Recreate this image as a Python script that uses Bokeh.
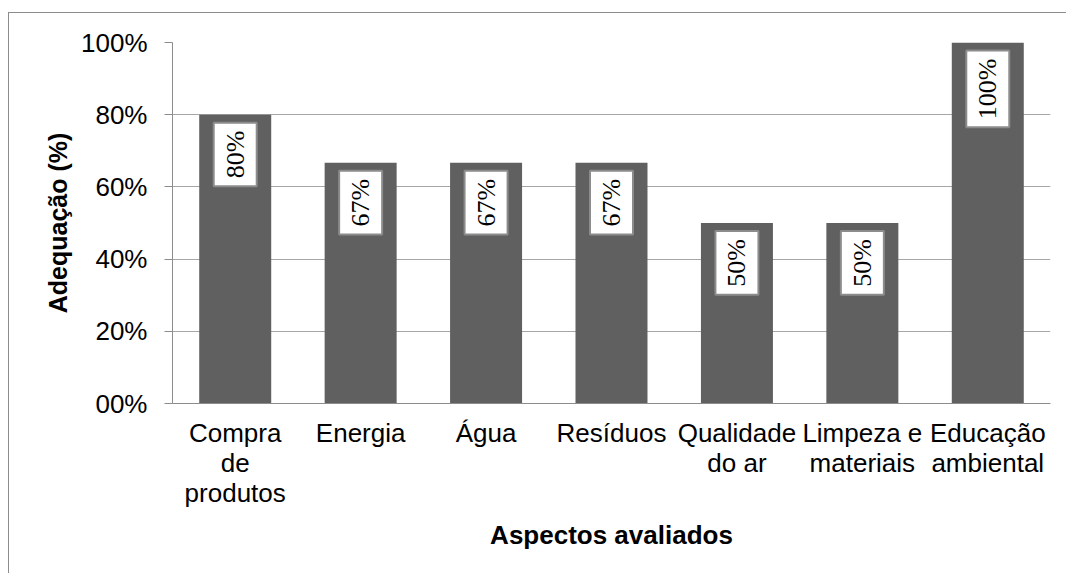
import math
from bokeh.plotting import figure
from bokeh.models import ColumnDataSource, Range1d, FixedTicker, FactorRange
from bokeh.core.properties import value
from bokeh.embed import file_html
from bokeh.resources import INLINE

categories = ["Compra\nde\nprodutos", "Energia", "Água", "Resíduos",
              "Qualidade\ndo ar", "Limpeza e\nmateriais", "Educação\nambiental"]
values = [80, 66.67, 66.67, 66.67, 50, 50, 100]
value_labels = ["80%", "67%", "67%", "67%", "50%", "50%", "100%"]
y_ticks = [0, 20, 40, 60, 80, 100]
y_tick_labels = ["00%", "20%", "40%", "60%", "80%", "100%"]

src = ColumnDataSource(dict(cat=categories, val=values, lbl=value_labels))

p = figure(width=1058, height=561, output_backend="svg", toolbar_location=None,
           x_range=FactorRange(*categories), y_range=Range1d(0, 100),
           min_border_left=163, min_border_right=17, min_border_top=29, min_border_bottom=171)
p.styles = {"border-left": "1px solid #8c8c8c", "border-top": "1px solid #8c8c8c",
            "margin-top": "12px", "margin-left": "8px"}
p.outline_line_color = None
p.background_fill_color = "white"
p.border_fill_color = "white"

p.vbar(x="cat", top="val", width=0.574, source=src, fill_color="#606060", line_color=None)

p.text(x="cat", y="val", text="lbl", source=src, angle=math.pi / 2,
       text_align="right", text_baseline="middle", y_offset=8,
       text_font=value("'Liberation Serif', 'Times New Roman', serif"), text_font_size="26px",
       text_color="black",
       background_fill_color="white", border_line_color="#8c8c8c", border_line_width=2,
       padding=dict(left=8, right=8, top=7, bottom=7))

p.xgrid.grid_line_color = None
p.ygrid.grid_line_color = "#a6a6a6"
p.ygrid.grid_line_width = 1

p.yaxis.ticker = FixedTicker(ticks=y_ticks)
p.yaxis.major_label_overrides = {t: l for t, l in zip(y_ticks, y_tick_labels)}
p.yaxis.major_tick_out = 8
p.yaxis.major_tick_in = 0
p.yaxis.minor_tick_line_color = None
p.yaxis.major_tick_line_color = "#8c8c8c"
p.yaxis.axis_line_color = "#8c8c8c"
p.yaxis.major_label_standoff = 17
p.yaxis.axis_label = "Adequação (%)"
p.yaxis.axis_label_standoff = 6
p.yaxis.axis_label_text_font_size = "25px"

p.xaxis.major_tick_line_color = None
p.xaxis.major_tick_out = 0
p.xaxis.major_tick_in = 0
p.xaxis.axis_line_color = "#8c8c8c"
p.xaxis.major_label_standoff = 14
p.xaxis.major_label_text_line_height = 1.0
p.xaxis.axis_label = "Aspectos avaliados"
p.xaxis.axis_label_standoff = 9
p.xaxis.axis_label_text_font_size = "26px"

for ax in (p.xaxis, p.yaxis):
    ax.major_label_text_font = "Liberation Sans"
    ax.major_label_text_font_size = "26px"
    ax.major_label_text_color = "black"
    ax.axis_label_text_font = "Liberation Sans"
    ax.axis_label_text_font_style = "bold"
    ax.axis_label_text_color = "black"
    ax.axis_line_width = 1

open("out.html", "w").write(file_html(p, INLINE))
